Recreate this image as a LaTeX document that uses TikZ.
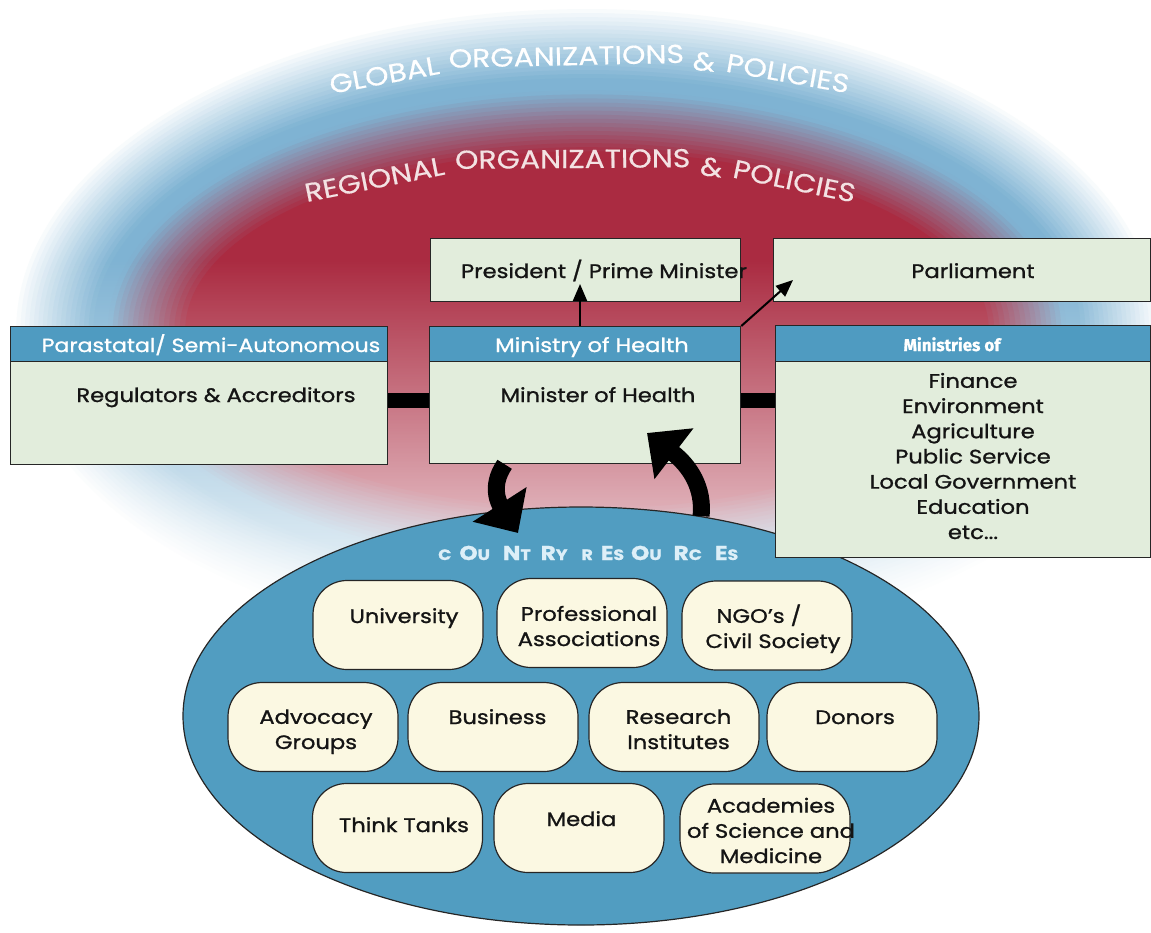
\documentclass[tikz,border=0pt]{standalone}
\usepackage{fontspec}
\setmainfont{Poppins}[FakeStretch=1.16,FakeBold=1.1]
\newfontfamily\ministriesfont{Fira Sans}[FakeBold=1.0]
\newfontfamily\arcfont{Poppins}[FakeStretch=1.15,FakeBold=0.4]
\usetikzlibrary{arrows.meta,fadings,shapes.geometric}

\definecolor{gblue}{HTML}{7FB3D3}
\definecolor{rred}{HTML}{AA2B41}
\definecolor{headb}{HTML}{4F9BC1}
\definecolor{panelg}{HTML}{E2EDDC}
\definecolor{cream}{HTML}{FBF8E2}
\definecolor{linec}{HTML}{262626}
\definecolor{inkc}{HTML}{141414}
\definecolor{crtext}{HTML}{DDEFF8}
\definecolor{regtext}{HTML}{F3E2E3}
\definecolor{ovalb}{HTML}{519DC1}

% lower edge of the glow washes out to white
\tikzfading[name=bottomwash, top color=transparent!100, bottom color=transparent!0]

\newcommand\boxtextfont{\fontsize{19.5}{25.2}\selectfont}
\newcommand\arcletters{\arcfont\fontsize{26}{26}\selectfont}
\newcommand\crtall[1]{{\fontsize{20}{20}\selectfont #1}}
\newcommand\crsmall[1]{{\fontsize{15}{15}\selectfont #1}}

\begin{document}
\begin{tikzpicture}[x=1pt,y=1pt,
  panel/.style={draw=linec, line width=1.3pt, fill=panelg, inner sep=0pt, anchor=north west},
  headbar/.style={draw=linec, line width=1.3pt, fill=headb, inner sep=0pt, anchor=north west, minimum height=35pt},
  txtnode/.style={inner sep=0pt, anchor=base, font=\boxtextfont, text=inkc, align=center},
  headtxt/.style={inner sep=0pt, anchor=base, font=\boxtextfont, text=white},
  arcword/.style={inner sep=0pt, anchor=base, font=\arcletters},
  resbox/.style={draw=linec, line width=1.2pt, fill=cream, rounded corners=34pt, minimum width=170pt, minimum height=89pt, inner sep=0pt},
  linkbar/.style={line width=15pt},
  thinarrow/.style={line width=2pt, -{Triangle[length=17pt,width=14pt]}},
  swirl/.style={line width=17pt, -{Triangle[length=34pt,width=62pt]}}]

\useasboundingbox (0,0) rectangle (1151,-932);

% background glow: red regional core inside a blue global halo,
% built from concentric ellipses, outermost first (inner ones kept wide)
\foreach \i in {80,79,...,1}{
  \pgfmathsetmacro{\rr}{\i/80}
  \pgfmathsetmacro{\rx}{575*\rr^0.6}
  \pgfmathsetmacro{\ry}{\rr*325}
  \pgfmathsetmacro{\wb}{max(0,min(100,100*(1-(\rr-0.78)/0.22)))}
  \pgfmathsetmacro{\rb}{max(0,min(100,100*(1-(\rr-0.55)/0.19)))}
  \ifdim\rr pt>0.74pt \colorlet{halo}{gblue!\wb!white}\else\colorlet{halo}{rred!\rb!gblue}\fi
  \fill[halo] (587,-330) ellipse [x radius=\rx pt, y radius=\ry pt];
}
\fill[white, path fading=bottomwash] (-5,-260) rectangle (1156,-660);

% arched titles, word by word along two arcs
\coordinate (garc) at (590,-1185);
\node[arcword, text=white, rotate=10.5] (g1) at ([shift={(100.5:1120pt)}]garc) {GLOBAL};
\node[arcword, text=white, rotate=1.2] (g2) at ([shift={(91.2:1120pt)}]garc) {ORGANIZATIONS};
\node[arcword, text=white, rotate=-5.8] (g3) at ([shift={(84.2:1120pt)}]garc) {\&};
\node[arcword, text=white, rotate=-10.1] (g4) at ([shift={(79.9:1120pt)}]garc) {POLICIES};
\coordinate (rarc) at (580,-1208);
\node[arcword, text=regtext, rotate=11.3] (r1) at ([shift={(101.3:1040pt)}]rarc) {REGIONAL};
\node[arcword, text=regtext, rotate=0.4] (r2) at ([shift={(90.4:1040pt)}]rarc) {ORGANIZATIONS};
\node[arcword, text=regtext, rotate=-7.2] (r3) at ([shift={(82.8:1040pt)}]rarc) {\&};
\node[arcword, text=regtext, rotate=-11.8] (r4) at ([shift={(78.2:1040pt)}]rarc) {POLICIES};

% country resources oval
\node[draw=linec, fill=ovalb, ellipse, line width=1.2pt, inner sep=0pt,
  minimum width=796pt, minimum height=418pt] (country) at (581,-716) {};
\node[anchor=base west, inner sep=0pt, text=crtext, font=\bfseries] (crlabel) at (438,-560)
  {\crsmall{C}\hspace{8pt}\crtall{O}\crsmall{U}\hspace{13pt}\crtall{N}\crsmall{T}\hspace{10pt}\crtall{R}\crsmall{Y}\hspace{14pt}\crsmall{R}\hspace{8pt}\crtall{E}\crsmall{S}\hspace{7pt}\crtall{O}\crsmall{U}\hspace{12pt}\crtall{R}\crsmall{C}\hspace{13pt}\crtall{E}\crsmall{S}};

% government boxes
\coordinate (barlevel) at (0,-400);
\node[panel, minimum width=377pt, minimum height=138pt] (para) at (10,-326) {};
\node[panel, minimum width=311pt, minimum height=137pt] (moh) at (429,-326) {};
\node[panel, minimum width=375pt, minimum height=232pt] (mins) at (775,-325) {};
\draw[linkbar] (barlevel -| para.east) -- (barlevel -| moh.west);
\draw[linkbar] (barlevel -| moh.east) -- (barlevel -| mins.west);
\node[headbar, minimum width=377pt] (parahead) at (10,-326) {};
\node[headbar, minimum width=311pt] (mohhead) at (429,-326) {};
\node[headbar, minimum width=375pt, minimum height=36pt] (minshead) at (775,-325) {};
\node[panel, minimum width=310pt, minimum height=63pt] (pres) at (430,-238) {};
\node[panel, minimum width=377pt, minimum height=63pt] (parl) at (773,-238) {};

\node[txtnode] (prestxt) at (604,-278) {President / Prime Minister};
\node[txtnode] (parltxt) at (973,-278) {Parliament};
\node[headtxt, font=\fontsize{19}{19}\selectfont] (paraheadtxt) at (211,-352) {Parastatal/ Semi-Autonomous};
\node[headtxt] (mohheadtxt) at (592,-352) {Ministry of Health};
\node[headtxt, font=\ministriesfont\bfseries\fontsize{17}{17}\selectfont] (minsheadtxt) at (952,-351) {Ministries of};
\node[txtnode] (paratxt) at (216,-402) {Regulators \& Accreditors};
\node[txtnode] (mohtxt) at (598,-402) {Minister of Health};
\node[txtnode] (minstxt) at (973,-539) {Finance\\Environment\\Agriculture\\Public Service\\Local Government\\Education\\etc...};

% country resources
\node[resbox] (uni) at (398,-625) {};
\node[resbox] (prof) at (582,-623) {};
\node[resbox] (ngo) at (767,-625.5) {};
\node[resbox] (adv) at (313,-727) {};
\node[resbox] (bus) at (493,-727) {};
\node[resbox] (res) at (674,-727) {};
\node[resbox] (don) at (852,-727) {};
\node[resbox] (think) at (397.5,-828) {};
\node[resbox] (media) at (579,-828) {};
\node[resbox] (acad) at (765,-828.5) {};

\node[txtnode] (unitxt) at (404,-623) {University};
\node[txtnode] (proftxt) at (589,-646) {Professional\\Associations};
\node[txtnode] (ngotxt) at (773,-648) {NGO’s /\hspace*{28pt}\\Civil Society};
\node[txtnode] (advtxt) at (316,-749) {Advocacy\\Groups};
\node[txtnode] (bustxt) at (497.5,-724) {Business};
\node[txtnode] (restxt) at (678.5,-749) {Research\\Institutes};
\node[txtnode] (dontxt) at (855,-724) {Donors};
\node[txtnode] (thinktxt) at (404,-832) {Think Tanks};
\node[txtnode] (mediatxt) at (581.5,-826) {Media};
\node[txtnode] (acadtxt) at (771,-863) {Academies\\of Science and\\Medicine};

% arrows
\coordinate (prestip) at (580,-284);
\draw[thinarrow] (prestip |- moh.north) -- (prestip);
\coordinate (parltip) at (793,-280);
\draw[thinarrow] (moh.north east) -- (parltip);
\coordinate (swirltipL) at (518,-533);
\draw[swirl] ([xshift=-80.5pt]moh.south) .. controls (489,-487) and (500,-505) .. (swirltipL);
\coordinate (swirltipR) at (647,-433);
\draw[swirl] (country.59) .. controls (704,-488) and (690,-466) .. (swirltipR);

\end{tikzpicture}
\end{document}
